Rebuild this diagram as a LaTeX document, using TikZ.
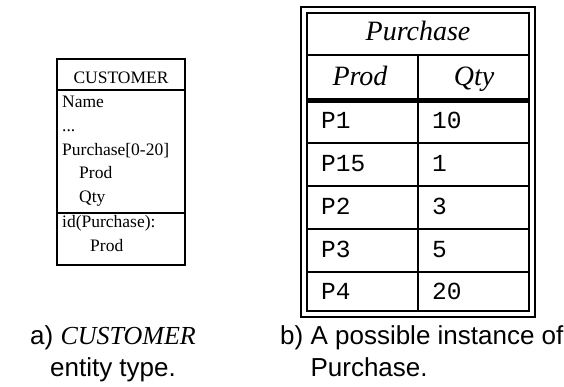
\documentclass[tikz,border=0pt]{standalone}
\usepackage{fontspec}
\setmainfont{Liberation Serif}
\newfontfamily\capfont{Liberation Sans}
\newfontfamily\codefont{Liberation Mono}
\usetikzlibrary{positioning}
\definecolor{InkBlack}{RGB}{0,0,0}

\begin{document}
\begin{tikzpicture}[x=1pt,y=-1pt,
    attr/.style={anchor=base west,inner sep=0pt,font=\fontsize{17.5}{20}\selectfont},
    head/.style={anchor=base,inner sep=0pt,font=\fontsize{28}{32}\selectfont\itshape},
    cell/.style={anchor=base west,inner sep=0pt,font=\fontsize{24.5}{28}\codefont},
    capt/.style={anchor=base west,inner sep=0pt,font=\fontsize{26}{30}\capfont}]
  \useasboundingbox (0,0) rectangle (564,386);
  % entity type box
  \draw[line width=1.5pt,InkBlack] (57,59) rectangle (185,265);
  \draw[line width=1.5pt,InkBlack] (57,90)--(185,90);
  \draw[line width=1.5pt,InkBlack] (57,213)--(185,213);
  \node[attr,anchor=base] (ename) at (121,83) {CUSTOMER};
  \node[attr] (aname) at (62,107) {Name};
  \node[attr] (adots) at (62,131) {...};
  \node[attr] (apur) at (62,155) {Purchase[0-20]};
  \node[attr] (aprod) at (79,178) {Prod};
  \node[attr] (aqty) at (79,202) {Qty};
  \node[attr] (aid) at (62,227) {id(Purchase):};
  \node[attr] (aidprod) at (90,251) {Prod};
  % instance table
  \draw[line width=2pt,InkBlack] (301,7) rectangle (535,317);
  \draw[line width=2pt,InkBlack] (307,13) rectangle (529,311);
  \draw[line width=1.5pt,InkBlack] (307,55)--(529,55);
  \draw[line width=5pt,InkBlack] (307,100.5)--(529,100.5);
  \foreach \y in {143,186,229,272}
    \draw[line width=1.5pt,InkBlack] (307,\y)--(529,\y);
  \draw[line width=1.5pt,InkBlack] (418,55)--(418,311);
  \node[head] (tname) at (418,40) {Purchase};
  \node[head] (cprod) at (360,85) {Prod};
  \node[head] (cqty) at (474,85) {Qty};
  \foreach \p/\q/\y [count=\i] in {P1/10/128,P15/1/171,P2/3/214,P3/5/257,P4/20/299}{
    \node[cell] (p\i) at (321,\y) {\p};
    \node[cell] (q\i) at (432,\y) {\q};
  }
  % captions
  \node[capt,anchor=base] (capa1) at (113,344) {a) {\rmfamily\itshape CUSTOMER}};
  \node[capt,anchor=base] (capa2) at (113,376) {entity type.};
  \node[capt] (capb1) at (280,344) {b) A possible instance of};
  \node[capt] (capb2) at (280,376) {\phantom{b) }Purchase.};
\end{tikzpicture}
\end{document}
